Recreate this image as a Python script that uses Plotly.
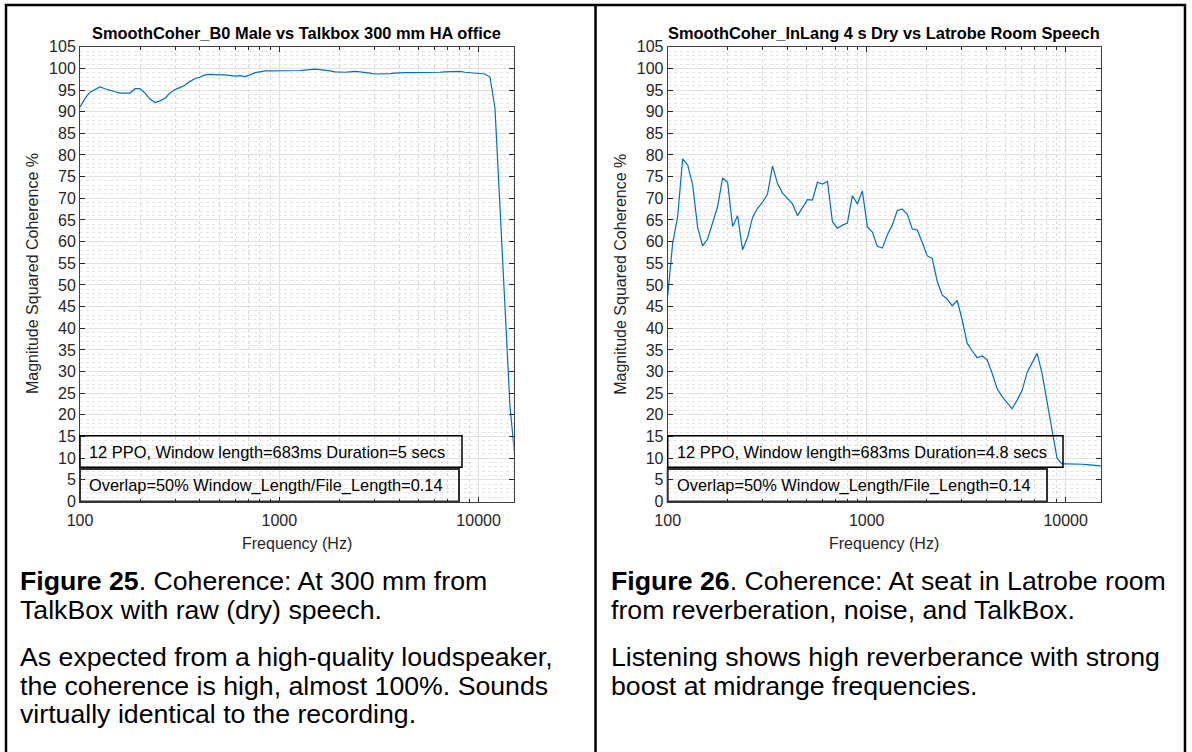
import plotly.graph_objects as go

W, H = 1192, 752

# 12 PPO frequency grid (Hz)
freq = [100, 105.9, 112.2, 118.9, 126.0, 133.5, 141.4, 149.8, 158.7, 168.2,
        178.2, 188.8, 200, 211.9, 224.5, 237.8, 252.0, 267.0, 282.8, 299.7,
        317.5, 336.4, 356.4, 377.6, 400, 423.8, 449.0, 475.7, 504.0, 534.0,
        565.7, 599.3, 635.0, 672.7, 712.7, 755.1, 800, 847.6, 898.0, 951.4,
        1008, 1068, 1131, 1199, 1270, 1345, 1425, 1510, 1600, 1695,
        1796, 1903, 2016, 2136, 2263, 2397, 2540, 2691, 2851, 3020,
        3200, 3390, 3592, 3805, 4032, 4271, 4525, 4794, 5080, 5382,
        5702, 6041, 6400, 6781, 7184, 7611, 8063, 8543, 9051, 9589,
        10159, 10763, 11403, 12081, 12800, 13561, 14367, 15221]

coh_talkbox = [91.1, 93.0, 94.5, 95.2, 95.7, 95.3, 94.9, 94.6, 94.3, 94.3,
               94.3, 95.3, 95.3, 94.3, 92.9, 92.1, 92.5, 93.1, 94.3, 95.1,
               95.6, 96.1, 97.0, 97.6, 98.0, 98.5, 98.6, 98.5, 98.5, 98.5,
               98.3, 98.2, 98.3, 98.1, 98.5, 99.0, 99.2, 99.4, 99.4, 99.4,
               99.4, 99.4, 99.4, 99.4, 99.5, 99.6, 99.7, 99.8, 99.7, 99.6,
               99.4, 99.2, 99.1, 99.1, 99.2, 99.3, 99.2, 99.1, 98.9, 98.7,
               98.7, 98.7, 98.8, 98.9, 99.0, 99.0, 99.0, 99.0, 99.0, 99.0,
               99.1, 99.1, 99.1, 99.2, 99.2, 99.3, 99.3, 99.1, 99.0, 98.9,
               98.8, 98.7, 98.0, 90.8, 68.0, 44.0, 22.0, 10.0]

coh_latrobe = [47.5, 59.6, 65.8, 79.1, 77.7, 73.1, 63.3, 59.0, 60.6, 64.3,
               68.1, 74.7, 73.7, 63.5, 66.0, 58.1, 61.0, 65.6, 67.7, 69.1,
               71.0, 77.5, 73.4, 71.2, 70.0, 68.7, 66.0, 67.9, 69.7, 69.6,
               73.7, 73.3, 73.9, 64.6, 63.1, 63.8, 64.3, 70.6, 68.7, 71.7,
               63.4, 62.2, 58.9, 58.5, 61.6, 63.8, 67.2, 67.5, 66.3, 62.9,
               62.7, 59.8, 56.7, 56.1, 50.8, 47.7, 46.7, 45.2, 46.4, 41.9,
               36.5, 34.8, 33.2, 33.6, 32.7, 29.6, 26.1, 24.2, 22.8, 21.4,
               23.4, 25.6, 29.8, 31.9, 34.2, 29.6, 22.7, 16.5, 10.0, 8.7,
               8.7, 8.7, 8.7, 8.6, 8.5, 8.4, 8.3, 8.2]

titles = ["SmoothCoher_B0 Male vs Talkbox 300 mm HA office",
          "SmoothCoher_InLang 4 s Dry vs Latrobe Room Speech"]
box1_text = ["12 PPO, Window length=683ms Duration=5 secs",
             "12 PPO, Window length=683ms Duration=4.8 secs"]
box2_text = ["Overlap=50% Window_Length/File_Length=0.14",
             "Overlap=50% Window_Length/File_Length=0.14"]
captions = [
    ["<b>Figure 25</b>. Coherence: At 300 mm from",
     "TalkBox with raw (dry) speech.",
     None,
     "As expected from a high-quality loudspeaker,",
     "the coherence is high, almost 100%. Sounds",
     "virtually identical to the recording."],
    ["<b>Figure 26</b>. Coherence: At seat in Latrobe room",
     "from reverberation, noise, and TalkBox.",
     None,
     "Listening shows high reverberance with strong",
     "boost at midrange frequencies."],
]
x_ticks = [100, 1000, 10000]
x_tick_text = ["100", "1000", "10000"]
y_ticks = list(range(0, 106, 5))

FONT = "Liberation Sans, Arial, Helvetica, sans-serif"
TXT = "#262626"
BLUE = "#0072BD"


def fx(px):
    return px / W


def fy(py):
    return 1 - py / H


plot_left = [80, 667.7]
plot_right = [513.7, 1100.7]
plot_top, plot_bot = 46.7, 501.5
box1_right = [462, 1063]
box2_right = [459, 1047]
text_x = [18, 609]

fig = go.Figure()
series = [coh_talkbox, coh_latrobe]
shapes = []
annotations = []
for i in range(2):
    xa = "x" if i == 0 else "x2"
    ya = "y" if i == 0 else "y2"
    fig.add_trace(go.Scatter(x=freq, y=series[i], mode="lines",
                             line=dict(color=BLUE, width=1.2),
                             xaxis=xa, yaxis=ya, showlegend=False,
                             hoverinfo="x+y"))
    axis_common = dict(showline=True, linecolor="#404040", linewidth=1,
                       mirror="ticks", ticks="inside", tickcolor="#262626",
                       tickfont=dict(family=FONT, size=16, color=TXT),
                       showgrid=True, gridcolor="#e1e1e1", gridwidth=1,
                       zeroline=False, automargin=False)
    xkey = "xaxis" if i == 0 else "xaxis2"
    ykey = "yaxis" if i == 0 else "yaxis2"
    fig.update_layout(**{
        xkey: dict(type="log", range=[2, 4.1761],
                   domain=[fx(plot_left[i]), fx(plot_right[i])],
                   anchor=ya, tickvals=x_ticks, ticktext=x_tick_text,
                   ticklen=5, ticklabelstandoff=4,
                   minor=dict(dtick="D1", showgrid=True, gridcolor="#d9d9d9",
                              griddash="dot", gridwidth=1, ticks="inside",
                              ticklen=3, tickcolor="#262626"),
                   **axis_common),
        ykey: dict(range=[0, 105], domain=[fy(plot_bot), fy(plot_top)],
                   anchor=xa, tickvals=y_ticks, ticklen=5,
                   minor=dict(dtick=1, showgrid=True, gridcolor="#e4e4e4",
                              griddash="dot", gridwidth=1, ticks=""),
                   **axis_common),
    })
    cx = (plot_left[i] + plot_right[i]) / 2
    annotations.append(dict(x=fx(cx), y=fy(33), xref="paper", yref="paper",
                            text="<b>" + titles[i] + "</b>", showarrow=False,
                            xanchor="center", yanchor="middle",
                            font=dict(family=FONT, size=16.4, color="#000000")))
    annotations.append(dict(x=fx(cx), y=fy(543), xref="paper", yref="paper",
                            text="Frequency (Hz)", showarrow=False,
                            xanchor="center", yanchor="middle",
                            font=dict(family=FONT, size=16, color=TXT)))
    annotations.append(dict(x=fx(plot_left[i] - 48), y=fy((plot_top + plot_bot) / 2),
                            xref="paper", yref="paper",
                            text="Magnitude Squared Coherence %", showarrow=False,
                            textangle=-90, xanchor="center", yanchor="middle",
                            font=dict(family=FONT, size=16, color=TXT)))
    # text boxes
    shapes.append(dict(type="rect", xref="paper", yref="paper",
                       x0=fx(plot_left[i]), x1=fx(box1_right[i]),
                       y0=fy(467.3), y1=fy(435.7),
                       line=dict(color="#000000", width=1.5)))
    shapes.append(dict(type="rect", xref="paper", yref="paper",
                       x0=fx(plot_left[i]), x1=fx(box2_right[i]),
                       y0=fy(501.5), y1=fy(469.0),
                       line=dict(color="#303030", width=2)))
    annotations.append(dict(x=fx(plot_left[i] + 7), y=fy(451.5), xref="paper",
                            yref="paper", text=box1_text[i], showarrow=False,
                            xanchor="left", yanchor="middle",
                            font=dict(family=FONT, size=16.4, color="#000000")))
    annotations.append(dict(x=fx(plot_left[i] + 7), y=fy(485.5), xref="paper",
                            yref="paper", text=box2_text[i], showarrow=False,
                            xanchor="left", yanchor="middle",
                            font=dict(family=FONT, size=16.4, color="#000000")))
    # captions
    line_y = [581, 609.5, None, 657, 685.5, 714]
    for j, line in enumerate(captions[i]):
        if line is None:
            continue
        annotations.append(dict(x=fx(text_x[i]), y=fy(line_y[j]), xref="paper",
                                yref="paper", text=line, showarrow=False,
                                xanchor="left", yanchor="middle",
                                font=dict(family=FONT, size=26.7, color="#000000")))

# document table borders
for (x0, y0, x1, y1) in [(5, 5, 1186, 5), (6, 4, 6, 752), (595.5, 4, 595.5, 752),
                         (1185, 4, 1185, 752)]:
    shapes.append(dict(type="line", xref="paper", yref="paper",
                       x0=fx(x0), x1=fx(x1), y0=fy(y0), y1=fy(y1),
                       line=dict(color="#000000", width=2.5)))

fig.update_layout(width=W, height=H,
                  margin=dict(l=0, r=0, t=0, b=0, pad=0, autoexpand=False),
                  paper_bgcolor="white", plot_bgcolor="white",
                  shapes=shapes, annotations=annotations, showlegend=False)

fig.write_html("out.html")
